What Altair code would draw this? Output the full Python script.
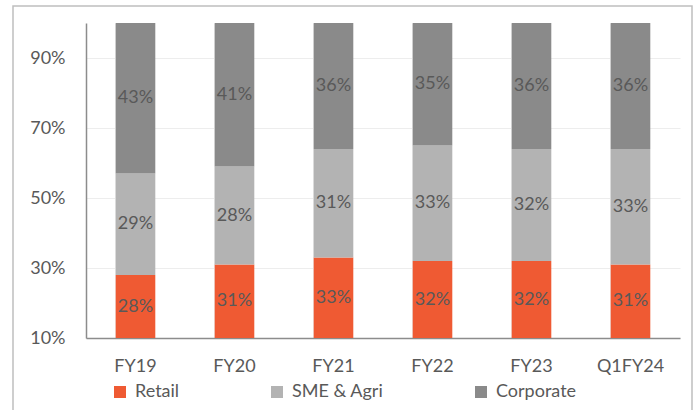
import altair as alt
import pandas as pd

categories = ["FY19", "FY20", "FY21", "FY22", "FY23", "Q1FY24"]
segments = ["Retail", "SME & Agri", "Corporate"]
retail = [0.28, 0.31, 0.33, 0.32, 0.32, 0.31]
sme = [0.29, 0.28, 0.31, 0.33, 0.32, 0.33]
corporate = [0.43, 0.41, 0.36, 0.35, 0.36, 0.36]
colors = ["#EF5A33", "#B3B3B3", "#8A8A8A"]
y_ticks = [0.1, 0.3, 0.5, 0.7, 0.9]

rows = []
for i, c in enumerate(categories):
    for k, (s, vals) in enumerate(zip(segments, [retail, sme, corporate])):
        rows.append({"cat": c, "seg": s, "value": vals[i], "order": k})
df = pd.DataFrame(rows)

FONT = "Lato"
GRAY = "#595959"

base = alt.Chart(df).transform_stack(
    stack="value", groupby=["cat"], as_=["v0", "v1"],
    sort=[alt.SortField("order", order="ascending")]
)

x = alt.X("cat:N", sort=categories, title=None,
          scale=alt.Scale(paddingInner=0.6, paddingOuter=0.3),
          axis=alt.Axis(labelAngle=0, labelFont=FONT, labelFontSize=18, labelColor=GRAY,
                        domainColor="#8C8C8C", domainWidth=1.5, ticks=False, labelPadding=19,
                        grid=True, gridColor="#EDEDED", gridWidth=1, bandPosition=0))

bars = base.mark_bar(clip=True).encode(
    x=x,
    y=alt.Y("v0:Q", title=None,
            scale=alt.Scale(domain=[0.1, 1.0], nice=False, zero=False),
            axis=alt.Axis(values=y_ticks, format=".0%", labelFont=FONT, labelFontSize=18,
                          labelColor=GRAY, domainColor="#8C8C8C", domainWidth=1.5, ticks=False,
                          labelPadding=21, grid=True, gridColor="#EDEDED", gridWidth=1)),
    y2="v1:Q",
    color=alt.Color("seg:N", scale=alt.Scale(domain=segments, range=colors),
                    legend=alt.Legend(title=None, orient="none", direction="horizontal",
                                      legendX=25, legendY=360, symbolType="square",
                                      symbolSize=144, symbolStrokeWidth=0, labelFont=FONT,
                                      labelFontSize=18, labelColor=GRAY, columnPadding=88,
                                      padding=0, symbolOpacity=1, labelOffset=6)),
)

labels = base.transform_calculate(
    mid="(max(datum.v0, 0.1) + min(datum.v1, 1.0)) / 2"
).mark_text(font=FONT, fontSize=18, color=GRAY).encode(
    x=alt.X("cat:N", sort=categories),
    y=alt.Y("mid:Q"),
    text=alt.Text("value:Q", format=".0%"),
)

frame = alt.Chart(pd.DataFrame({"a": [0]})).mark_rect(
    fill=None, stroke="#BFBFBF", strokeWidth=1.5, clip=False
).encode(x=alt.value(-73), x2=alt.value(606), y=alt.value(-17), y2=alt.value(390))

chart = alt.layer(frame, bars, labels).properties(
    width=594, height=315,
    autosize=alt.AutoSizeParams(type="none"),
    padding={"left": 86, "top": 23, "right": 17, "bottom": 72},
    background="white",
).configure_view(stroke=None)

chart.save("out.html", embed_options={"renderer": "svg", "actions": False})
